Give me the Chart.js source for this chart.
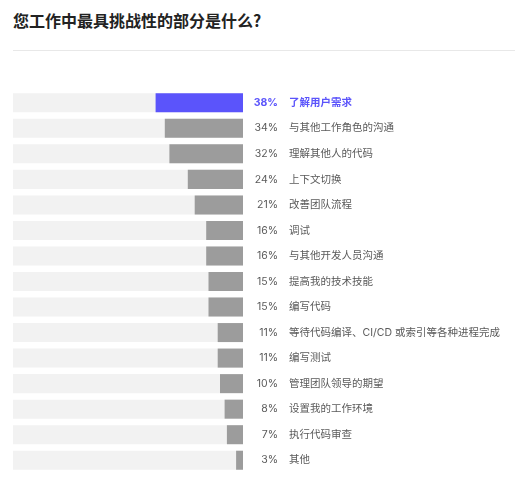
<!DOCTYPE html>
<html>
<head>
<meta charset="utf-8">
<script src="https://cdn.jsdelivr.net/npm/chart.js@4/dist/chart.umd.min.js"></script>
<style>
  html, body { margin: 0; padding: 0; background: #fff; }
  #wrap { position: relative; width: 515px; height: 479px; overflow: hidden; }
  #title { position: absolute; left: 13px; top: 9px; font: bold 16px "Noto Sans CJK SC", "Inter", sans-serif; color: #222; white-space: nowrap; line-height: 22px; }
  #rule { position: absolute; left: 13px; right: 0; top: 50px; height: 1px; background: #e8e8e8; }
  canvas { position: absolute; left: 0; top: 0; }
</style>
</head>
<body>
<div id="wrap">
  <div id="title">您工作中最具挑战性的部分是什么?</div>
  <div id="rule"></div>
  <canvas id="c" width="515" height="479"></canvas>
</div>
<script>
const categories = [
  "了解用户需求",
  "与其他工作角色的沟通",
  "理解其他人的代码",
  "上下文切换",
  "改善团队流程",
  "调试",
  "与其他开发人员沟通",
  "提高我的技术技能",
  "编写代码",
  "等待代码编译、CI/CD 或索引等各种进程完成",
  "编写测试",
  "管理团队领导的期望",
  "设置我的工作环境",
  "执行代码审查",
  "其他"
];
const values = [38, 34, 32, 24, 21, 16, 16, 15, 15, 11, 11, 10, 8, 7, 3];
const trackValues = categories.map(() => 100);
const percentLabels = values.map(v => v + "%");

const BLUE = "#5b54fb";
const GRAY = "#9c9c9c";
const TRACK = "#f2f2f2";
const TEXT = "#5a5a5a";
const FONT = "Inter, 'Noto Sans CJK SC', sans-serif";

new Chart(document.getElementById("c"), {
  type: "bar",
  data: {
    labels: categories,
    datasets: [
      {
        data: values,
        backgroundColor: values.map((v, i) => i === 0 ? BLUE : GRAY),
        barPercentage: 0.745,
        categoryPercentage: 1,
        grouped: false,
        order: 1
      },
      {
        data: trackValues,
        backgroundColor: TRACK,
        barPercentage: 0.745,
        categoryPercentage: 1,
        grouped: false,
        order: 2
      }
    ]
  },
  options: {
    indexAxis: "y",
    responsive: false,
    animation: false,
    layout: { padding: { left: 13, top: 90, bottom: 6, right: 0 } },
    plugins: { legend: { display: false }, tooltip: { enabled: false }, title: { display: false } },
    scales: {
      x: { type: "linear", min: 0, max: 100, reverse: true, display: false },
      y: {
        type: "category",
        position: "right",
        weight: 1,
        labels: percentLabels,
        grid: { display: false, drawTicks: false },
        border: { display: false },
        ticks: {
          crossAlign: "far",
          padding: 0,
          autoSkip: false,
          color: (ctx) => ctx.index === 0 ? BLUE : TEXT,
          font: (ctx) => ({ family: FONT, size: 10.5, weight: ctx.index === 0 ? "bold" : "normal" })
        },
        afterFit: (s) => { s.width = 35; s.paddingTop = 0; s.paddingBottom = 0; }
      },
      yLabels: {
        type: "category",
        position: "right",
        weight: 2,
        labels: categories,
        grid: { display: false, drawTicks: false },
        border: { display: false },
        ticks: {
          crossAlign: "near",
          padding: 11,
          autoSkip: false,
          color: (ctx) => ctx.index === 0 ? BLUE : TEXT,
          font: (ctx) => ({ family: FONT, size: 10.5, weight: ctx.index === 0 ? "bold" : "normal" })
        },
        afterFit: (s) => { s.width = 237; s.paddingTop = 0; s.paddingBottom = 0; }
      }
    }
  }
});
</script>
</body>
</html>
